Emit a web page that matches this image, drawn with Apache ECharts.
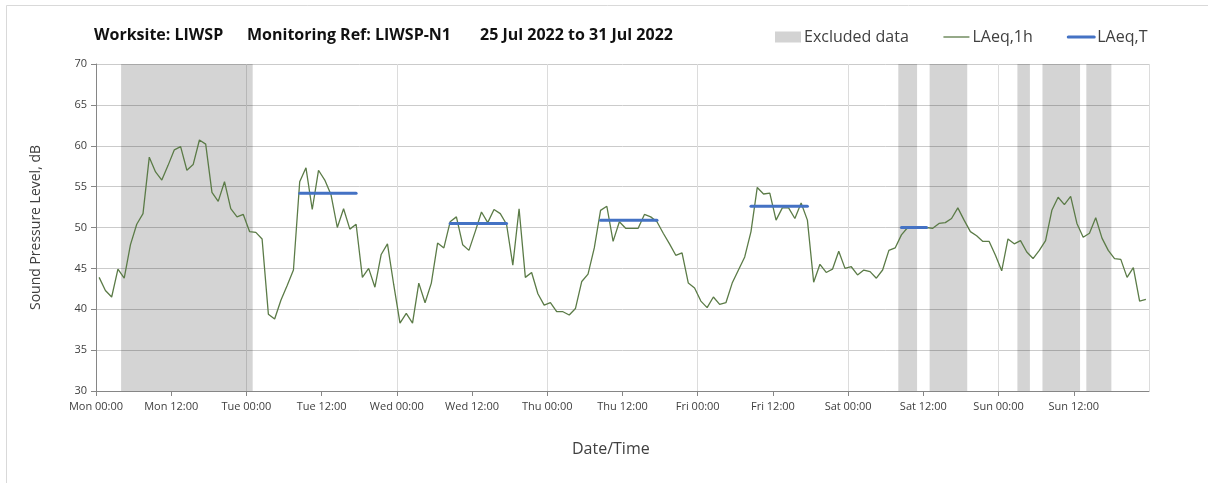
<!DOCTYPE html>
<html>
<head>
<meta charset="utf-8">
<script src="https://cdn.jsdelivr.net/npm/echarts@6/dist/echarts.min.js"></script>
<style>
  html, body { margin: 0; padding: 0; background: #fff; }
  #chart { width: 1208px; height: 483px; }
</style>
</head>
<body>
<div id="chart"></div>
<script>
// day names for axis labels (hours from Mon 00:00)
const dayNames = ['Mon', 'Tue', 'Wed', 'Thu', 'Fri', 'Sat', 'Sun'];

// hourly LAeq,1h values, Mon 00:00 .. Sun 23:00
const laeq1h = [
  43.9, 42.3, 41.5, 44.9, 43.8, 47.9, 50.4, 51.7, 58.6, 56.8, 55.8, 57.6,
  59.5, 59.9, 57.0, 57.7, 60.7, 60.2, 54.3, 53.2, 55.6, 52.3, 51.3, 51.6,
  49.5, 49.4, 48.6, 39.4, 38.8, 41.1, 42.9, 44.8, 55.6, 57.3, 52.2, 57.0,
  55.8, 54.0, 50.0, 52.3, 49.8, 50.4, 43.9, 45.0, 42.7, 46.7, 48.0, 43.0,
  38.3, 39.5, 38.3, 43.2, 40.8, 43.2, 48.1, 47.5, 50.7, 51.3, 47.9, 47.2,
  49.5, 51.9, 50.6, 52.2, 51.7, 50.4, 45.4, 52.3, 43.9, 44.5, 41.9, 40.5,
  40.8, 39.7, 39.7, 39.3, 40.1, 43.4, 44.3, 47.5, 52.1, 52.6, 48.3, 50.7,
  49.9, 49.9, 49.9, 51.6, 51.3, 50.7, 49.3, 48.0, 46.6, 46.9, 43.2, 42.6,
  41.0, 40.2, 41.5, 40.6, 40.8, 43.2, 44.8, 46.4, 49.5, 54.9, 54.1, 54.2,
  50.9, 52.4, 52.4, 51.1, 53.0, 50.9, 43.3, 45.5, 44.5, 44.9, 47.1, 45.0,
  45.2, 44.2, 44.8, 44.6, 43.8, 44.8, 47.2, 47.5, 49.1, 50.0, 49.9, 49.9,
  50.0, 49.9, 50.5, 50.6, 51.1, 52.4, 50.9, 49.5, 49.0, 48.3, 48.3, 46.6,
  44.7, 48.6, 48.0, 48.4, 47.0, 46.2, 47.2, 48.4, 52.1, 53.7, 52.8, 53.8,
  50.5, 48.8, 49.3, 51.2, 48.7, 47.2, 46.2, 46.1, 43.9, 45.1, 41.0, 41.2
];

// LAeq,T periods (hours from Mon 00:00)
const periodStart = [32.5, 56.5, 80.5, 104.5, 128.5];
const periodEnd = [41.5, 65.5, 89.5, 113.5, 132.5];
const laeqT = [54.2, 50.5, 50.9, 52.6, 50.0];

// excluded data ranges (hours from Mon 00:00)
const excludedStart = [4, 128, 133, 147, 151, 158];
const excludedEnd = [25, 131, 139, 149, 157, 162];

const chart = echarts.init(document.getElementById('chart'));

const font = 'Open Sans';
const axisGrey = '#868686';

const lineData = laeq1h.map((v, i) => [i + 0.5, v]);

let series = [
  {
    name: 'Excluded data',
    type: 'bar',
    z: 1,
    data: [],
    itemStyle: { color: '#d3d3d3' },
    markArea: {
      silent: true,
      itemStyle: { color: 'rgba(0,0,0,0.17)' },
      data: excludedStart.map((s, i) => [{ xAxis: s }, { xAxis: excludedEnd[i] }])
    }
  },
  {
    name: 'LAeq,1h',
    type: 'line',
    symbol: 'none',
    z: 3,
    lineStyle: { color: '#5b7b47', width: 1.3 },
    itemStyle: { color: '#5b7b47' },
    data: lineData
  }
];

for (let i = 0; i < laeqT.length; i++) {
  series.push({
    name: 'LAeq,T',
    type: 'line',
    symbol: 'none',
    z: 4,
    lineStyle: { color: '#4472c4', width: 3, cap: 'round' },
    itemStyle: { color: '#4472c4' },
    data: [[periodStart[i], laeqT[i]], [periodEnd[i], laeqT[i]]]
  })
}

const option = {
  backgroundColor: '#fff',
  animation: false,
  grid: { left: 96, right: 59, top: 64, bottom: 92 },
  legend: {
    left: 775,
    top: 29,
    padding: 0,
    itemWidth: 26,
    itemHeight: 11,
    itemGap: 34,
    selectedMode: false,
    textStyle: { fontFamily: font, fontSize: 16, color: '#404040', padding: [0, 0, 0, -2] },
    data: [
      { name: 'Excluded data', icon: 'rect' },
      { name: 'LAeq,1h', itemStyle: { opacity: 0 }, lineStyle: { width: 1.3 } },
      { name: 'LAeq,T', itemStyle: { opacity: 0 }, lineStyle: { width: 3 } }
    ]
  },
  graphic: [
    {
      type: 'rect', silent: true,
      shape: { x: 6.5, y: 5.5, width: 1220, height: 500 },
      style: { fill: 'none', stroke: '#d9d9d9', lineWidth: 1 }
    },
    { type: 'text', left: 94, top: 27, style: { text: 'Worksite: LIWSP', font: 'bold 16px "Open Sans"', fill: '#111' } },
    { type: 'text', left: 247, top: 27, style: { text: 'Monitoring Ref: LIWSP-N1', font: 'bold 16px "Open Sans"', fill: '#111' } },
    { type: 'text', left: 480, top: 27, style: { text: '25 Jul 2022 to 31 Jul 2022', font: 'bold 16px "Open Sans"', fill: '#111' } },
    { type: 'text', left: 572, top: 441, style: { text: 'Date/Time', font: '16px "Open Sans"', fill: '#404040' } }
  ],
  xAxis: {
    type: 'value',
    min: 0,
    max: 168,
    interval: 12,
    axisLine: { show: true, lineStyle: { color: axisGrey } },
    axisTick: { show: true, length: 5, lineStyle: { color: axisGrey } },
    axisLabel: {
      fontFamily: font,
      fontSize: 11,
      color: '#404040',
      margin: 10,
      showMaxLabel: false,
      formatter: (v) => {
        if (v >= 168) return '';
        return dayNames[Math.floor(v / 24)] + ' ' + (v % 24 === 0 ? '00:00' : '12:00');
      }
    },
    splitLine: {
      show: true,
      lineStyle: { color: ['#dcdcdc', 'rgba(0,0,0,0)'], width: 1 }
    }
  },
  yAxis: {
    type: 'value',
    min: 30,
    max: 70,
    interval: 5,
    name: 'Sound Pressure Level, dB',
    nameLocation: 'middle',
    nameGap: 53,
    nameTextStyle: { fontFamily: font, fontSize: 14, color: '#404040' },
    axisLine: { show: true, lineStyle: { color: axisGrey } },
    axisTick: { show: true, length: 5, lineStyle: { color: axisGrey } },
    axisLabel: { fontFamily: font, fontSize: 11, color: '#404040', margin: 9 },
    splitLine: { show: true, lineStyle: { color: '#cbcbcb', width: 1 } }
  },
  series: series
};

chart.setOption(option);
</script>
</body>
</html>
